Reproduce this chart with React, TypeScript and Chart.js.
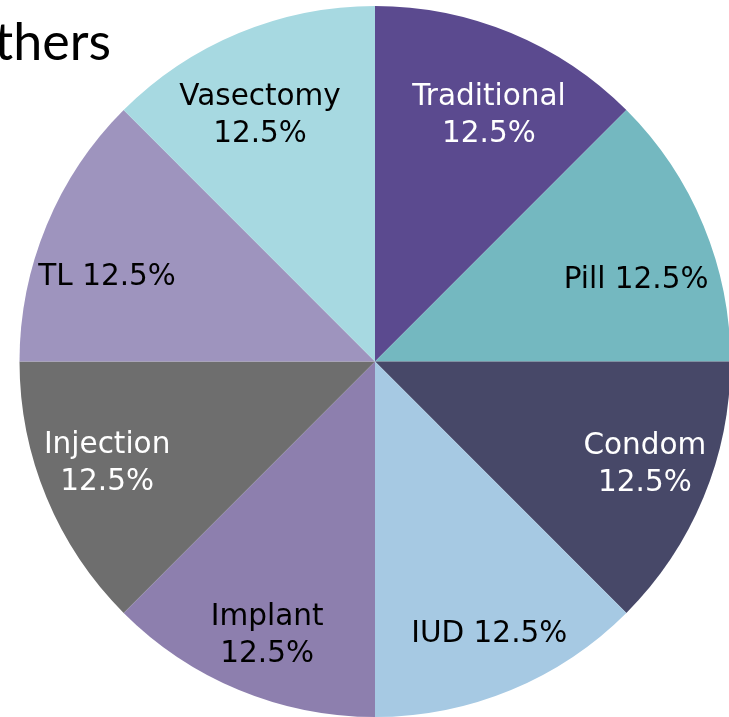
import React, { useEffect, useRef } from "react";
import { Chart, registerables } from "chart.js";

Chart.register(...registerables);

const categories = ["Traditional", "Pill", "Condom", "IUD", "Implant", "Injection", "TL", "Vasectomy"];
const shares = [12.5, 12.5, 12.5, 12.5, 12.5, 12.5, 12.5, 12.5];
const titleText = "Others";

// styling
const sliceColors = ["#5b4a8f", "#74b8c0", "#474868", "#a6c9e3", "#8d7fae", "#6e6e6e", "#9e94be", "#a7d9e1"];
const labelColors = ["#ffffff", "#000000", "#ffffff", "#000000", "#000000", "#ffffff", "#000000", "#000000"];
const labelTwoLines = [true, false, true, false, true, true, false, true];
const labelAngleShift = [2.2, 4.8, -1.9, -0.4, -0.9, 1.9, -4.6, -2.4];
const labelRadius = [0.767, 0.771, 0.811, 0.826, 0.824, 0.805, 0.792, 0.768];

const labelPlugin = {
  id: "sliceLabels",
  afterDatasetsDraw(chart: any) {
    const ctx = chart.ctx;
    const meta = chart.getDatasetMeta(0);
    const data = chart.data.datasets[0].data as number[];
    ctx.save();
    ctx.font = "29.5px 'DejaVu Sans'";
    ctx.textAlign = "center";
    ctx.textBaseline = "middle";
    meta.data.forEach((arc: any, i: number) => {
      const p = arc.getProps(["x", "y", "startAngle", "endAngle", "outerRadius"], true);
      const mid = (p.startAngle + p.endAngle) / 2 + (labelAngleShift[i] * Math.PI) / 180;
      const r = p.outerRadius * labelRadius[i];
      const cx = p.x + Math.cos(mid) * r;
      const cy = p.y + Math.sin(mid) * r + 2;
      const pct = data[i].toFixed(1) + "%";
      ctx.fillStyle = labelColors[i];
      if (labelTwoLines[i]) {
        ctx.fillText(categories[i], cx, cy - 18.5);
        ctx.fillText(pct, cx, cy + 18.5);
      } else {
        ctx.fillText(categories[i] + " " + pct, cx, cy);
      }
    });
    ctx.restore();
  },
};

const titlePlugin = {
  id: "clippedTitle",
  afterDraw(chart: any) {
    const ctx = chart.ctx;
    ctx.save();
    ctx.font = "52px Lato";
    ctx.fillStyle = "#000000";
    ctx.textAlign = "right";
    ctx.textBaseline = "alphabetic";
    ctx.fillText(titleText, 111, 60);
    ctx.restore();
  },
};

export default function App() {
  const ref = useRef<HTMLCanvasElement | null>(null);
  useEffect(() => {
    document.body.style.margin = "0";
    document.body.style.overflow = "hidden";
    const chart = new Chart(ref.current as HTMLCanvasElement, {
      type: "pie",
      data: {
        labels: categories,
        datasets: [
          {
            data: shares,
            backgroundColor: sliceColors,
            borderWidth: 0,
          },
        ],
      },
      options: {
        animation: false,
        responsive: false,
        layout: { padding: { left: 19.5, right: 29.5, top: 6, bottom: 0 } },
        plugins: {
          legend: { display: false },
          tooltip: { enabled: false },
          title: { display: false },
        },
      },
      plugins: [labelPlugin, titlePlugin],
    });
    return () => chart.destroy();
  }, []);
  return (
    <div style={{ position: "fixed", left: 0, top: 0, width: 729, height: 717, overflow: "hidden", background: "#ffffff" }}>
      <canvas ref={ref} width={760} height={717} style={{ display: "block", width: 760, height: 717 }} />
    </div>
  );
}
